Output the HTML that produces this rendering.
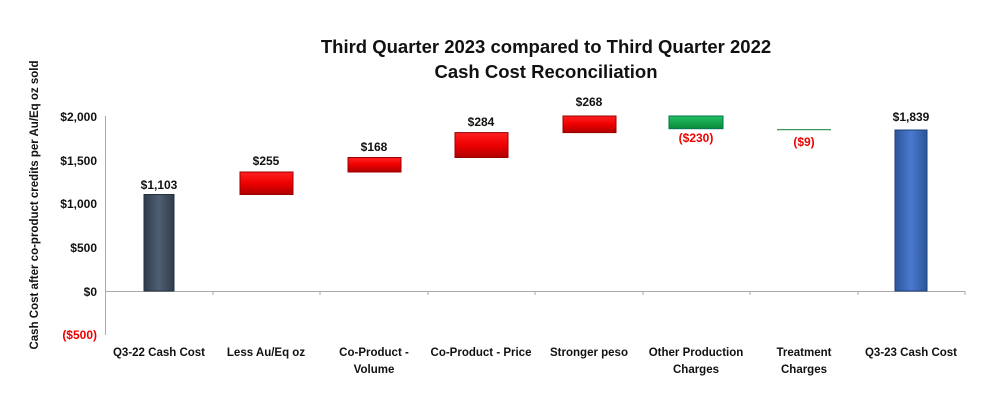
<!DOCTYPE html><html><head><style>body{margin:0;background:#fff}</style></head><body>
<svg width="981" height="410" xmlns="http://www.w3.org/2000/svg" font-family="Liberation Sans, sans-serif" font-weight="bold">
<defs>
<linearGradient id="r" x1="0" y1="0" x2="0" y2="1"><stop offset="0" stop-color="#ff2020"/><stop offset="0.5" stop-color="#ee0000"/><stop offset="1" stop-color="#b00000"/></linearGradient>
<linearGradient id="g" x1="0" y1="0" x2="0" y2="1"><stop offset="0" stop-color="#22c060"/><stop offset="1" stop-color="#0a8a3a"/></linearGradient>
<linearGradient id="d" x1="0" y1="0" x2="1" y2="0"><stop offset="0" stop-color="#2f3b4a"/><stop offset="0.5" stop-color="#4f5f73"/><stop offset="1" stop-color="#2f3b4a"/></linearGradient>
<linearGradient id="b" x1="0" y1="0" x2="1" y2="0"><stop offset="0" stop-color="#2c559a"/><stop offset="0.5" stop-color="#4a7ad0"/><stop offset="1" stop-color="#2c559a"/></linearGradient>
</defs>
<text x="546" y="53" font-size="18.5" text-anchor="middle" fill="#111">Third Quarter 2023 compared to Third Quarter 2022</text>
<text x="546" y="78" font-size="18.5" text-anchor="middle" fill="#111">Cash Cost Reconciliation</text>
<text transform="translate(38,205) rotate(-90)" font-size="11.5" text-anchor="middle" fill="#111">Cash Cost after co-product credits per Au/Eq oz sold</text>
<g font-size="12" text-anchor="end" fill="#111">
<text x="97" y="121">$2,000</text><text x="97" y="165">$1,500</text><text x="97" y="208">$1,000</text><text x="97" y="252">$500</text><text x="97" y="296">$0</text><text x="97" y="339" fill="#e00">($500)</text>
</g>
<line x1="105.5" y1="116" x2="105.5" y2="335" stroke="#aaa"/>
<line x1="105" y1="291.5" x2="965" y2="291.5" stroke="#aaa"/>
<g stroke="#aaa"><line x1="213" y1="291" x2="213" y2="295"/><line x1="320" y1="291" x2="320" y2="295"/><line x1="428" y1="291" x2="428" y2="295"/><line x1="535" y1="291" x2="535" y2="295"/><line x1="643" y1="291" x2="643" y2="295"/><line x1="750" y1="291" x2="750" y2="295"/><line x1="858" y1="291" x2="858" y2="295"/><line x1="965" y1="291" x2="965" y2="295"/></g>
<rect x="144" y="194.5" width="30" height="96.5" fill="url(#d)" stroke="#263040"/>
<rect x="240" y="172" width="53" height="22.5" fill="url(#r)" stroke="#900"/>
<rect x="348" y="157.5" width="53" height="14.5" fill="url(#r)" stroke="#900"/>
<rect x="455" y="132.6" width="53" height="24.9" fill="url(#r)" stroke="#900"/>
<rect x="563" y="116" width="53" height="16.6" fill="url(#r)" stroke="#900"/>
<rect x="669" y="116" width="54" height="12.7" fill="url(#g)" stroke="#075"/>
<line x1="777" y1="129.6" x2="831" y2="129.6" stroke="#3a9a60" stroke-width="1.2"/>
<rect x="895" y="130" width="32" height="161" fill="url(#b)" stroke="#1f3f78"/>
<g font-size="12" text-anchor="middle" fill="#111">
<text x="159" y="189">$1,103</text><text x="266" y="165">$255</text><text x="374" y="151">$168</text><text x="481" y="126">$284</text><text x="589" y="106">$268</text>
<text x="696" y="142" fill="#e00">($230)</text><text x="804" y="146" fill="#e00">($9)</text><text x="911" y="121">$1,839</text>
</g>
<g font-size="11.5" text-anchor="middle" fill="#111">
<text x="159" y="356">Q3-22 Cash Cost</text><text x="266" y="356">Less Au/Eq oz</text>
<text x="374" y="356">Co-Product -</text><text x="374" y="373">Volume</text>
<text x="481" y="356">Co-Product - Price</text><text x="589" y="356">Stronger peso</text>
<text x="696" y="356">Other Production</text><text x="696" y="373">Charges</text>
<text x="804" y="356">Treatment</text><text x="804" y="373">Charges</text>
<text x="911" y="356">Q3-23 Cash Cost</text>
</g>
</svg>
</body></html>
